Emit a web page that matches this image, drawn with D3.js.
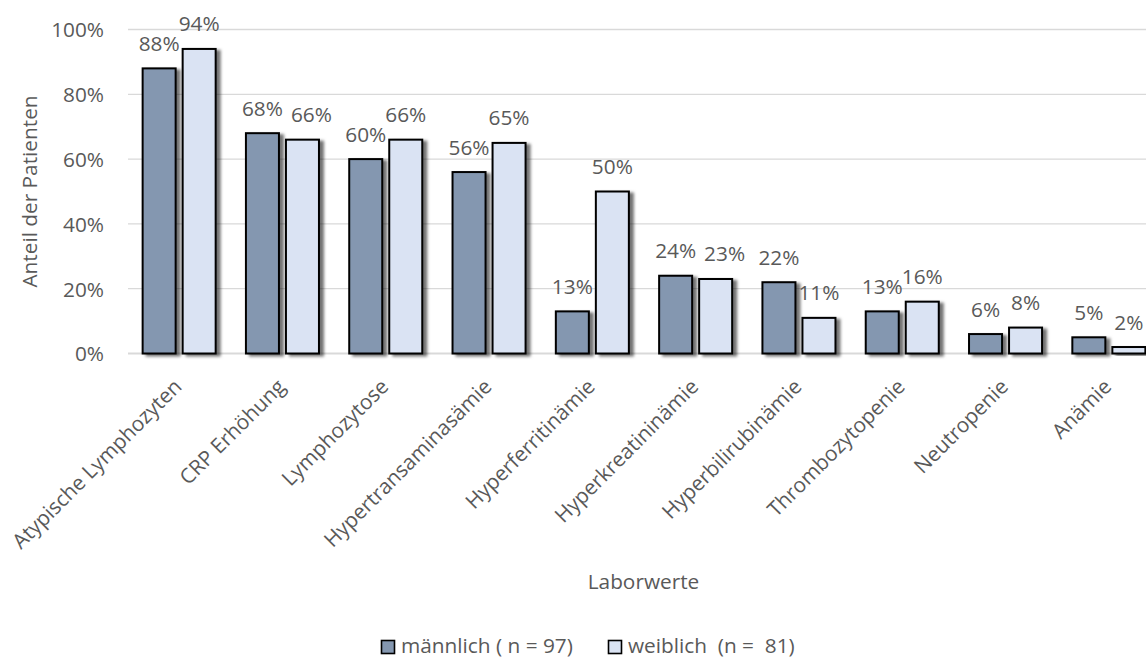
<!DOCTYPE html>
<html><head><meta charset="utf-8">
<script src="https://cdn.jsdelivr.net/npm/d3@7"></script>
<style>
  body { margin: 0; background: #fff; }
  text { font-family: "Open Sans", "Noto Sans", sans-serif; fill: #595959; }
</style>
</head>
<body>
<svg id="chart" width="1146" height="659"></svg>
<script>
// Laborbefunde nach Geschlecht (Anteil der Patienten)
const categories = ["Atypische Lymphozyten", "CRP Erhöhung", "Lymphozytose", "Hypertransaminasämie",
  "Hyperferritinämie", "Hyperkreatininämie", "Hyperbilirubinämie", "Thrombozytopenie", "Neutropenie", "Anämie"];
const seriesNames = ["männlich ( n = 97)", "weiblich  (n =  81)"];
const maleValues = [0.88, 0.68, 0.60, 0.56, 0.13, 0.24, 0.22, 0.13, 0.06, 0.05];
const femaleValues = [0.94, 0.66, 0.66, 0.65, 0.50, 0.23, 0.11, 0.16, 0.08, 0.02];
const yTicks = [0, 0.2, 0.4, 0.6, 0.8, 1.0];
const colors = ["#8497b0", "#dae3f3"];

const FS = 20.8;
const pct = d3.format(".0%");
const svg = d3.select("#chart");

const defs = svg.append("defs");
const f = defs.append("filter").attr("id", "shadow")
  .attr("x", "-20%").attr("y", "-20%").attr("width", "150%").attr("height", "150%");
f.append("feDropShadow").attr("dx", 4).attr("dy", 2).attr("stdDeviation", 1.8)
  .attr("flood-color", "#000").attr("flood-opacity", 0.55);

const x0 = d3.scaleBand().domain(categories).range([127.5, 1160.5])
  .paddingInner(0.293).paddingOuter(0.1465);
const x1 = d3.scaleBand().domain(seriesNames).range([0, x0.bandwidth()]).paddingInner(0.175);
const y = d3.scaleLinear().domain([0, 1]).range([353.5, 29.5]);

// horizontal gridlines
svg.append("g").selectAll("line").data(yTicks).join("line")
  .attr("x1", 128).attr("x2", 1146)
  .attr("y1", d => y(d)).attr("y2", d => y(d))
  .attr("stroke", "#d9d9d9").attr("stroke-width", d => d === 0 ? 2 : 1.3);

// y axis labels
const yAxis = d3.axisLeft(y).tickValues(yTicks).tickFormat(pct).tickSize(0).tickPadding(0);
const gy = svg.append("g").attr("transform", "translate(104,0)").call(yAxis);
gy.select(".domain").remove();
gy.selectAll("text").attr("dy", null).attr("y", 7.4).attr("x", 0)
  .style("font-size", FS + "px").style("font-family", "'Open Sans'").attr("fill", "#595959");

// bars
const rows = categories.map((c, i) => ({ c, vals: [maleValues[i], femaleValues[i]] }));
const groups = svg.append("g").selectAll("g").data(rows).join("g")
  .attr("transform", d => `translate(${x0(d.c)},0)`);

groups.selectAll("rect").data(d => d.vals.map((v, k) => ({ v, k }))).join("rect")
  .attr("x", d => x1(seriesNames[d.k]))
  .attr("y", d => y(d.v))
  .attr("width", x1.bandwidth())
  .attr("height", d => y(0) - y(d.v))
  .attr("fill", d => colors[d.k])
  .attr("stroke", "#000").attr("stroke-width", 2)
  .attr("filter", "url(#shadow)");

// value labels above the bars
groups.each(function () {
  const g = d3.select(this);
  const labels = g.selectAll("text").data(d => d.vals.map((v, k) => ({ v, k }))).join("text")
    .attr("x", d => x1(seriesNames[d.k]) + x1.bandwidth() / 2)
    .attr("y", d => y(d.v) - 17.5)
    .attr("text-anchor", "middle")
    .style("font-size", FS + "px")
    .text(d => pct(d.v));
  // push the right label aside when it would collide with its neighbour
  const nodes = labels.nodes();
  const [a, b] = nodes.map(n => d3.select(n).datum());
  if (Math.abs(y(a.v) - y(b.v)) < 8) {
    const wa = nodes[0].getComputedTextLength(), wb = nodes[1].getComputedTextLength();
    const ra = x1(seriesNames[0]) + x1.bandwidth() / 2 + wa / 2;
    const lb = x1(seriesNames[1]) + x1.bandwidth() / 2 - wb / 2;
    const shift = ra + 8 - lb;
    if (shift > 0) d3.select(nodes[1]).attr("x", +d3.select(nodes[1]).attr("x") + shift);
  }
});

// category labels, rotated
const xAxis = d3.axisBottom(x0).tickSize(0).tickPadding(0);
const gx = svg.append("g").call(xAxis);
gx.select(".domain").remove();
gx.selectAll(".tick").attr("transform", d => `translate(${x0(d) + x0.bandwidth() / 2 + 4},388)`);
gx.selectAll("text").attr("y", 0).attr("dy", null).attr("x", 0)
  .attr("text-anchor", "end").attr("transform", "rotate(-45)")
  .style("font-size", FS + "px").style("font-family", "'Open Sans'").attr("fill", "#595959");

// axis titles
svg.append("text").attr("transform", "translate(37,191.5) rotate(-90)")
  .attr("text-anchor", "middle").style("font-size", FS + "px").text("Anteil der Patienten");
svg.append("text").attr("x", 643.5).attr("y", 589)
  .attr("text-anchor", "middle").style("font-size", FS + "px").text("Laborwerte");

// legend
const legendX = [381, 608];
const lg = svg.append("g").selectAll("g").data(seriesNames).join("g")
  .attr("transform", (d, i) => `translate(${legendX[i]},0)`);
lg.append("rect").attr("x", 0.5).attr("y", 640.5).attr("width", 13).attr("height", 13)
  .attr("fill", (d, i) => colors[i]).attr("stroke", "#000").attr("stroke-width", 1.6);
lg.append("text").attr("x", 20).attr("y", 653).style("font-size", FS + "px")
  .style("white-space", "pre").text(d => d);
</script>
</body></html>
